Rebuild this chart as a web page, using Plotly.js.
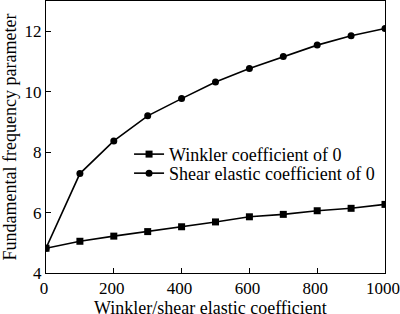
<!DOCTYPE html>
<html><head><meta charset="utf-8">
<script src="https://cdn.plot.ly/plotly-3.0.1.min.js"></script>
<style>html,body{margin:0;padding:0;background:#fff}</style>
</head><body><div id="chart" style="width:400px;height:314px"></div>
<script>
const xValues = [0, 100, 200, 300, 400, 500, 600, 700, 800, 900, 1000];
const winklerZero = [4.82, 5.05, 5.22, 5.37, 5.53, 5.69, 5.86, 5.94, 6.06, 6.14, 6.27];
const shearZero = [4.82, 7.29, 8.37, 9.20, 9.77, 10.32, 10.77, 11.16, 11.54, 11.85, 12.09];
const seriesNames = ["Winkler coefficient of 0", "Shear elastic coefficient of 0"];
const xTicks = [0, 200, 400, 600, 800, 1000];
const yTicks = [4, 6, 8, 10, 12];
const xTitle = "Winkler/shear elastic coefficient";
const yTitle = "Fundamental frequency parameter";

const fam = "'Liberation Serif', 'Times New Roman', Times, serif";
const font = {family: fam, size: 18, color: "#000"};
const tickFont = {family: fam, size: 17, color: "#000"};
const traces = [
  {x: xValues, y: winklerZero, name: seriesNames[0], mode: "lines+markers", legend: "legend",
   line: {color: "#000", width: 1.6}, marker: {symbol: "square", size: 7, color: "#000"}},
  {x: xValues, y: shearZero, name: seriesNames[1], mode: "lines+markers", legend: "legend2",
   line: {color: "#000", width: 1.6}, marker: {symbol: "circle", size: 7, color: "#000"}}
];
const legendBase = {x: 0.245, xanchor: "left", yanchor: "middle", bgcolor: "rgba(0,0,0,0)",
                    font: font, itemwidth: 30, borderwidth: 0};
const layout = {
  width: 400, height: 314,
  margin: {l: 46, r: 15, t: 1, b: 41},
  paper_bgcolor: "#fff", plot_bgcolor: "#fff",
  font: font,
  showlegend: true,
  legend: Object.assign({}, legendBase, {y: 0.436}),
  legend2: Object.assign({}, legendBase, {y: 0.366}),
  xaxis: {range: [0, 1000], tickvals: xTicks, ticks: "inside", ticklen: 5, tickcolor: "#000",
          ticklabeloverflow: "allow", ticklabelshift: -2, automargin: false, tickfont: tickFont,
          showline: true, linecolor: "#000", linewidth: 1, mirror: true, showgrid: false, zeroline: false},
  yaxis: {range: [4, 13], tickvals: yTicks, ticks: "inside", ticklen: 5, tickcolor: "#000",
          automargin: false, tickfont: tickFont,
          showline: true, linecolor: "#000", linewidth: 1, mirror: true, showgrid: false, zeroline: false,
          title: {text: yTitle, font: font, standoff: 6}},
  annotations: [
    {text: xTitle, xref: "paper", yref: "paper", x: 0.5, y: 0, xanchor: "center", yanchor: "top",
     yshift: -24, xshift: -5, borderpad: 0, showarrow: false, font: font}
  ]
};
Plotly.newPlot("chart", traces, layout, {staticPlot: true, displayModeBar: false});
</script></body></html>
